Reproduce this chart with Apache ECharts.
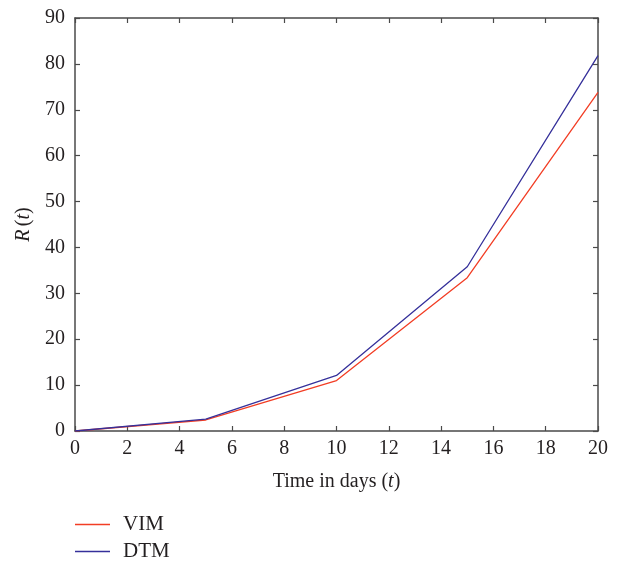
<!DOCTYPE html>
<html>
<head>
<meta charset="utf-8">
<script src="https://cdn.jsdelivr.net/npm/echarts@6/dist/echarts.min.js"></script>
<style>
html,body{margin:0;padding:0;background:#fff;}
#c{width:619px;height:563px;}
</style>
</head>
<body>
<div id="c"></div>
<script>
const days = [0, 5, 10, 15, 20];
const vim = [0, 2.4, 11.0, 33.4, 73.8];
const dtm = [0, 2.6, 12.1, 35.8, 81.8];
const seriesNames = ['VIM', 'DTM'];
const xTicks = [0, 2, 4, 6, 8, 10, 12, 14, 16, 18, 20];
const yTicks = [0, 10, 20, 30, 40, 50, 60, 70, 80, 90];

const FONT = 'Liberation Serif';
const axisCol = '#4a4a4a';
const txtCol = '#231f20';
const chart = echarts.init(document.getElementById('c'), null, {renderer: 'canvas'});

function pairs(xs, ys) { return xs.map((x, i) => [x, ys[i]]); }

const baseAxis = {
  axisLine: {show: true, onZero: false, lineStyle: {color: axisCol, width: 1.5}},
  axisTick: {show: true, inside: true, length: 5, lineStyle: {color: axisCol, width: 1.2}},
  splitLine: {show: false}
};
const richName = {
  n: {fontFamily: FONT, fontSize: 20, color: txtCol},
  i: {fontFamily: FONT, fontSize: 20, color: txtCol, fontStyle: 'italic'}
};

chart.setOption({
  animation: false,
  backgroundColor: '#fff',
  grid: {left: 75, right: 21, top: 18, bottom: 132, containLabel: false},
  legend: {
    orient: 'vertical', left: 75, top: 514, padding: 0,
    data: seriesNames,
    icon: 'rect', itemWidth: 35, itemHeight: 1.5, itemGap: 6,
    textStyle: {fontFamily: FONT, fontSize: 21, lineHeight: 21, color: txtCol, padding: [0, 0, 0, 8]}
  },
  xAxis: [
    Object.assign({}, baseAxis, {
      type: 'value', min: xTicks[0], max: xTicks[xTicks.length - 1], interval: 2,
      position: 'bottom',
      axisLabel: {fontFamily: FONT, fontSize: 20, color: txtCol, margin: 8},
      name: '{n|Time in days (}{i|t}{n|)}', nameLocation: 'middle', nameGap: 41,
      nameTextStyle: {rich: richName}
    }),
    Object.assign({}, baseAxis, {
      type: 'value', min: xTicks[0], max: xTicks[xTicks.length - 1], interval: 2,
      position: 'top', axisLabel: {show: false}
    })
  ],
  yAxis: [
    Object.assign({}, baseAxis, {
      type: 'value', min: yTicks[0], max: yTicks[yTicks.length - 1], interval: 10,
      position: 'left',
      axisLabel: {fontFamily: FONT, fontSize: 20, color: txtCol, margin: 10},
      name: '{i|R} {n|(}{i|t}{n|)}', nameLocation: 'middle', nameGap: 40, nameRotate: 90,
      nameTextStyle: {rich: richName}
    }),
    Object.assign({}, baseAxis, {
      type: 'value', min: yTicks[0], max: yTicks[yTicks.length - 1], interval: 10,
      position: 'right', axisLabel: {show: false}
    })
  ],
  series: [
    {name: seriesNames[0], type: 'line', data: pairs(days, vim), showSymbol: false, symbol: 'none',
     lineStyle: {color: '#f23d24', width: 1.3}, itemStyle: {color: '#f23d24'}},
    {name: seriesNames[1], type: 'line', data: pairs(days, dtm), showSymbol: false, symbol: 'none',
     lineStyle: {color: '#35309a', width: 1.3}, itemStyle: {color: '#35309a'}}
  ]
});
</script>
</body>
</html>
